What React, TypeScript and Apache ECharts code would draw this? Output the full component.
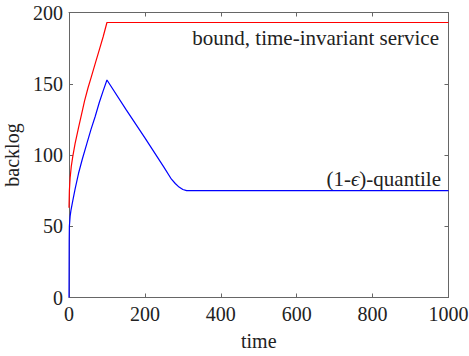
import React, { useEffect, useRef } from "react";
import * as echarts from "echarts";

const xTickMin = 0;
const xTickMax = 1000;
const xTickStep = 200;
const yTickMin = 0;
const yTickMax = 200;
const yTickStep = 50;

// bound, time-invariant service (red)
const boundTime = [0, 1, 3, 6, 10, 16, 25, 36, 41, 50, 59, 70, 80, 90, 100, 1000];
const boundValue = [63, 75, 84, 92, 99, 108, 119, 132, 138, 147, 155, 165, 174, 183, 193, 193];

// (1-eps)-quantile (blue)
const quantileTime = [0, 0.5, 1, 3, 5, 10, 16, 25, 35, 47, 58, 69, 80, 90, 100, 150, 200, 250, 270, 280, 290, 300, 310, 1000];
const quantileValue = [0, 40, 50, 57, 61, 68, 76, 87, 97, 108, 118, 127, 137, 145, 152.6, 132, 112, 91.5, 83, 80, 77.5, 75.8, 75, 75];

const boundLabel = "bound, time-invariant service";
const quantileLabel = "(1-{e|ϵ})-quantile";
const xName = "time";
const yName = "backlog";

const FONT = "'Liberation Serif', 'Times New Roman', serif";
const AXIS_COLOR = "#666";
const TEXT_COLOR = "#222";

export default function App() {
  const ref = useRef<HTMLDivElement>(null);
  useEffect(() => {
    if (!ref.current) return;
    const chart = echarts.init(ref.current, null, { renderer: "svg" });
    const axisCommon = {
      axisLine: { show: true, onZero: false, lineStyle: { color: AXIS_COLOR, width: 1 } },
      axisTick: { show: true, inside: true, length: 4, lineStyle: { color: AXIS_COLOR } },
      splitLine: { show: false },
    };
    const labelStyle = {
      fontFamily: FONT,
      fontSize: 20,
      color: TEXT_COLOR,
      margin: 6,
      formatter: (v: number) => String(v),
    };
    const boundData = boundTime.map((t, i) => [t, boundValue[i]]);
    const quantileData = quantileTime.map((t, i) => [t, quantileValue[i]]);
    chart.setOption({
      animation: false,
      backgroundColor: "#fff",
      textStyle: { fontFamily: FONT },
      grid: {
        left: 69,
        right: 20.5,
        top: 12.5,
        bottom: 58.5,
        containLabel: false,
        outerBoundsMode: "none",
      },
      xAxis: [
        {
          type: "value",
          min: xTickMin,
          max: xTickMax,
          interval: xTickStep,
          position: "bottom",
          name: xName,
          nameLocation: "middle",
          nameGap: 33,
          nameTextStyle: { fontFamily: FONT, fontSize: 20, color: TEXT_COLOR },
          axisLabel: labelStyle,
          ...axisCommon,
        },
        {
          type: "value",
          min: xTickMin,
          max: xTickMax,
          interval: xTickStep,
          position: "top",
          axisLabel: { show: false },
          ...axisCommon,
        },
      ],
      yAxis: [
        {
          type: "value",
          min: yTickMin,
          max: yTickMax,
          interval: yTickStep,
          position: "left",
          name: yName,
          nameLocation: "middle",
          nameGap: 39,
          nameTextStyle: { fontFamily: FONT, fontSize: 20, color: TEXT_COLOR },
          axisLabel: labelStyle,
          ...axisCommon,
        },
        {
          type: "value",
          min: yTickMin,
          max: yTickMax,
          interval: yTickStep,
          position: "right",
          axisLabel: { show: false },
          ...axisCommon,
        },
      ],
      series: [
        {
          type: "line",
          data: boundData,
          showSymbol: false,
          lineStyle: { color: "#ff0000", width: 1.2 },
          itemStyle: { color: "#ff0000" },
        },
        {
          type: "line",
          data: quantileData,
          showSymbol: false,
          lineStyle: { color: "#0000ff", width: 1.2 },
          itemStyle: { color: "#0000ff" },
        },
      ],
      graphic: [
        {
          type: "text",
          x: 439,
          y: 38,
          style: {
            text: boundLabel,
            fontFamily: FONT,
            fontSize: 21,
            fill: TEXT_COLOR,
            align: "right",
            verticalAlign: "middle",
          },
        },
        {
          type: "text",
          x: 441,
          y: 179,
          style: {
            text: quantileLabel,
            fontFamily: FONT,
            fontSize: 21,
            fill: TEXT_COLOR,
            align: "right",
            verticalAlign: "middle",
            rich: {
              e: { fontFamily: FONT, fontSize: 21, fontStyle: "italic", fill: TEXT_COLOR },
            },
          },
        },
      ],
    });
    return () => chart.dispose();
  }, []);
  return (
    <div
      ref={ref}
      style={{ position: "fixed", left: 0, top: 0, width: 469, height: 356 }}
    />
  );
}
